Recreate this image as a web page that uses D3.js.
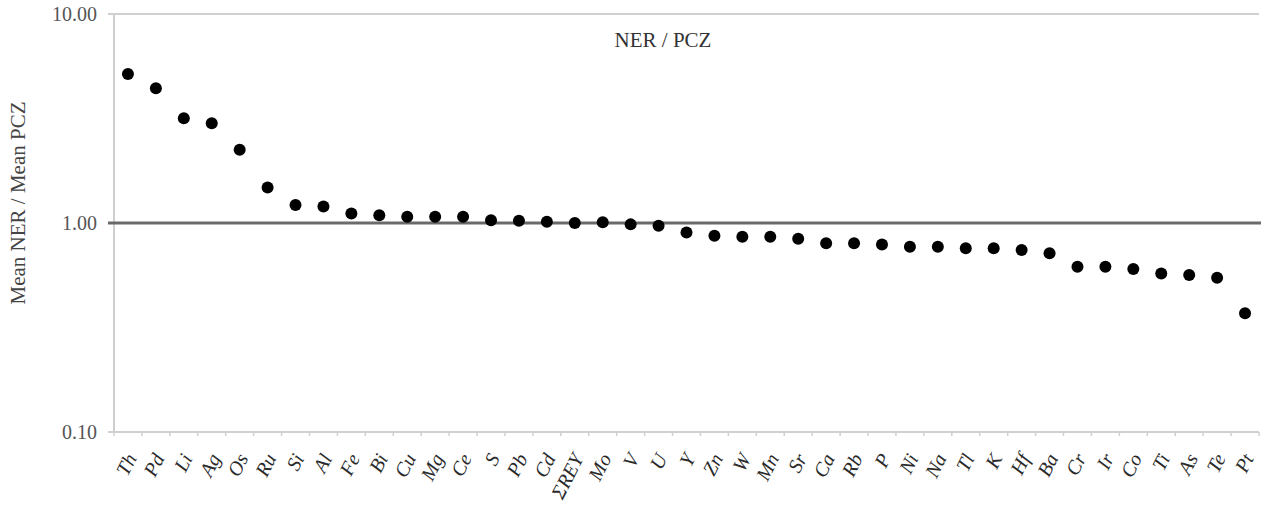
<!DOCTYPE html>
<html>
<head>
<meta charset="utf-8">
<script src="https://cdn.jsdelivr.net/npm/d3@7"></script>
<style>
  html, body { margin: 0; padding: 0; background: #fff; }
  svg { display: block; }
  text { font-family: "Liberation Serif", "DejaVu Serif", serif; }
</style>
</head>
<body>
<svg id="chart" width="1264" height="507"></svg>
<script>
const categories = ["Th","Pd","Li","Ag","Os","Ru","Si","Al","Fe","Bi","Cu","Mg","Ce","S","Pb","Cd","ΣREY","Mo","V","U","Y","Zn","W","Mn","Sr","Ca","Rb","P","Ni","Na","Tl","K","Hf","Ba","Cr","Ir","Co","Ti","As","Te","Pt"];
const ratios = [5.16,4.41,3.17,3.00,2.24,1.48,1.22,1.20,1.11,1.09,1.07,1.07,1.07,1.03,1.025,1.015,1.00,1.007,0.985,0.97,0.90,0.87,0.86,0.86,0.84,0.80,0.80,0.79,0.77,0.77,0.757,0.757,0.743,0.716,0.618,0.618,0.602,0.574,0.564,0.547,0.37];
const yTicks = [0.1, 1, 10];
const chartTitle = "NER / PCZ";
const yTitle = "Mean NER / Mean PCZ";

const svg = d3.select("#chart");
const pLeft = 114, pRight = 1259, pTop = 14, pBottom = 432;

const x = d3.scaleBand().domain(categories).range([pLeft, pRight]).padding(0);
const y = d3.scaleLog().domain([0.1, 10]).range([pBottom, pTop]);

// y axis line
svg.append("line").attr("x1", pLeft).attr("x2", pLeft).attr("y1", pTop).attr("y2", pBottom)
  .attr("stroke", "#cfcfcf").attr("stroke-width", 2);

// horizontal lines at ticks
yTicks.forEach(t => {
  const isOne = t === 1;
  svg.append("line")
    .attr("x1", pLeft - 6).attr("x2", isOne ? pRight + 2 : pRight)
    .attr("y1", y(t)).attr("y2", y(t))
    .attr("stroke", isOne ? "#6a6a6a" : "#d0d0d0")
    .attr("stroke-width", isOne ? 3 : 2);
  svg.append("text")
    .attr("x", 97).attr("y", y(t)).attr("dy", "0.35em")
    .attr("text-anchor", "end")
    .attr("font-size", 20).attr("fill", "#555")
    .text(d3.format(".2f")(t));
});

// x ticks at band boundaries
const boundaries = categories.map(c => x(c)).concat([pRight]);
svg.selectAll(".xtick").data(boundaries).enter().append("line")
  .attr("x1", d => d).attr("x2", d => d)
  .attr("y1", pBottom).attr("y2", pBottom + 4)
  .attr("stroke", "#cfcfcf").attr("stroke-width", 1.5);

// x labels
svg.selectAll(".xlab").data(categories).enter().append("text")
  .attr("transform", d => `translate(${x(d) + x.bandwidth() / 2 + 3},${pBottom + 23}) rotate(-63)`)
  .attr("text-anchor", "end")
  .attr("dy", "0.35em")
  .attr("font-size", 20).attr("font-style", "italic").attr("fill", "#2a2a2a")
  .text(d => d);

// points
svg.selectAll(".pt").data(categories).enter().append("circle")
  .attr("cx", d => x(d) + x.bandwidth() / 2)
  .attr("cy", (d, i) => y(ratios[i]))
  .attr("r", 6)
  .attr("fill", "#000");

// title
svg.append("text").attr("x", 663).attr("y", 40).attr("dy", "0.35em")
  .attr("text-anchor", "middle").attr("font-size", 21).attr("fill", "#333")
  .text(chartTitle);

// y title
svg.append("text")
  .attr("transform", "translate(18,203) rotate(-90)")
  .attr("text-anchor", "middle").attr("dy", "0.35em")
  .attr("font-size", 21).attr("fill", "#444")
  .text(yTitle);
</script>
</body>
</html>
